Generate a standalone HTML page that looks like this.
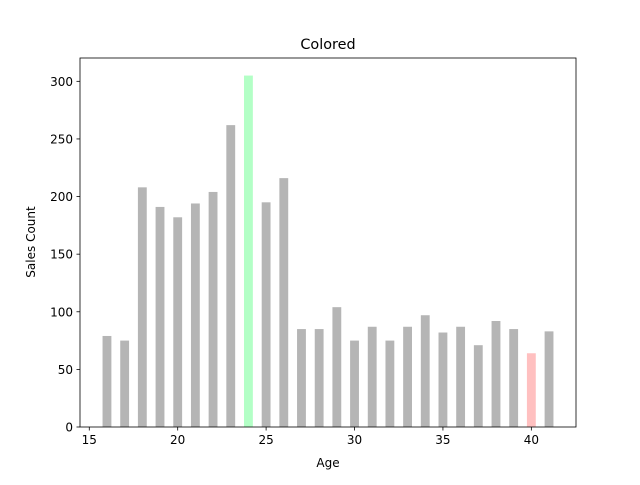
<!DOCTYPE html>
<html><head><meta charset="utf-8"><style>
body{margin:0;background:#fff;}
svg text{font-family:"DejaVu Sans","Liberation Sans",sans-serif;fill:#000;}
</style></head><body>
<svg id="chart" width="640" height="480">
<rect width="640" height="480" fill="#fff"/>
<text x="328" y="49" font-size="14.4" text-anchor="middle">Colored</text>
<g id="bars"></g>
<g id="axes"></g>
<text x="328" y="467" font-size="12" text-anchor="middle">Age</text>
<text transform="translate(35,242) rotate(-90)" font-size="12" text-anchor="middle">Sales Count</text>
</svg>
<script>
const ages=[16,17,18,19,20,21,22,23,24,25,26,27,28,29,30,31,32,33,34,35,36,37,38,39,40,41];
const counts=[79,75,208,191,182,194,204,262,305,195,216,85,85,104,75,87,75,87,97,82,87,71,92,85,64,83];
const xTicks=[15,20,25,30,35,40];
const yTicks=[0,50,100,150,200,250,300];
const highlightMax="#b3ffc6";
const highlightMin="#ffc0c0";
const L=80,R=576,T=58,B=427;
const xmin=Math.min(...ages)-0.25,xmax=Math.max(...ages)+0.25,xm=(xmax-xmin)*0.05;
const x0=xmin-xm,x1=xmax+xm;
const ymax=Math.max(...counts)*1.05;
const sx=v=>L+(v-x0)/(x1-x0)*(R-L);
const sy=v=>B-v/ymax*(B-T);
const NS="http://www.w3.org/2000/svg";
const bars=document.getElementById('bars'),axes=document.getElementById('axes');
const mx=Math.max(...counts),mn=Math.min(...counts);
ages.forEach((a,i)=>{
 const r=document.createElementNS(NS,'rect');
 r.setAttribute('x',sx(a-0.25));r.setAttribute('width',sx(a+0.25)-sx(a-0.25));
 r.setAttribute('y',sy(counts[i]));r.setAttribute('height',B-sy(counts[i]));
 r.setAttribute('fill',counts[i]===mx?highlightMax:counts[i]===mn?highlightMin:"#b5b5b5");
 
 
 bars.appendChild(r);
});
const fr=document.createElementNS(NS,'rect');
fr.setAttribute('x',L);fr.setAttribute('y',T);fr.setAttribute('width',R-L);fr.setAttribute('height',B-T);
fr.setAttribute('fill','none');fr.setAttribute('stroke','#000');fr.setAttribute('stroke-width','0.8');


axes.appendChild(fr);
xTicks.forEach(t=>{
 const l=document.createElementNS(NS,'line');
 l.setAttribute('x1',sx(t));l.setAttribute('x2',sx(t));l.setAttribute('y1',B);l.setAttribute('y2',B+3.5);l.setAttribute('stroke','#000');l.setAttribute('stroke-width','0.8');
 
 
 axes.appendChild(l);
 const tx=document.createElementNS(NS,'text');
 tx.setAttribute('x',sx(t));tx.setAttribute('y',B+17);tx.setAttribute('font-size','12');tx.setAttribute('text-anchor','middle');tx.textContent=t;
 
 
 axes.appendChild(tx);
});
yTicks.forEach(t=>{
 const l=document.createElementNS(NS,'line');
 l.setAttribute('x1',L-3.5);l.setAttribute('x2',L);l.setAttribute('y1',sy(t));l.setAttribute('y2',sy(t));l.setAttribute('stroke','#000');l.setAttribute('stroke-width','0.8');
 
 
 axes.appendChild(l);
 const tx=document.createElementNS(NS,'text');
 tx.setAttribute('x',L-7);tx.setAttribute('y',sy(t)+4.5);tx.setAttribute('font-size','12');tx.setAttribute('text-anchor','end');tx.textContent=t;
 
 
 axes.appendChild(tx);
});
</script>
</body></html>
